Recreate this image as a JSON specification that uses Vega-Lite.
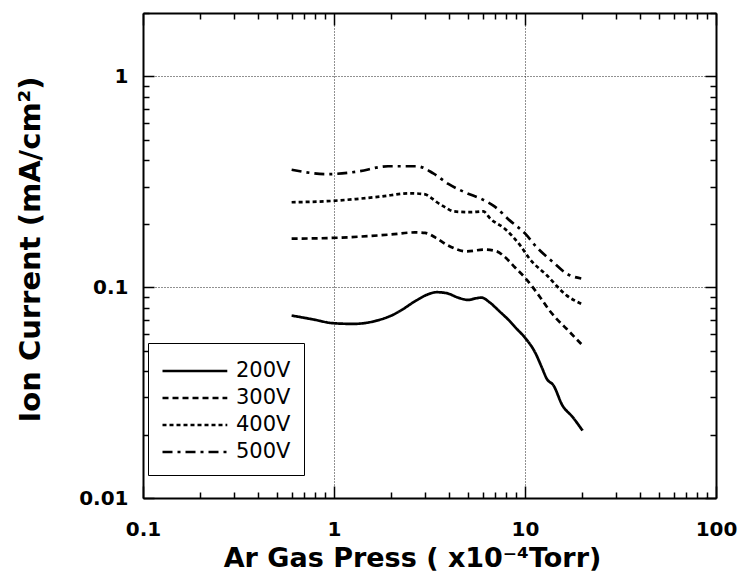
{
  "$schema": "https://vega.github.io/schema/vega-lite/v6.json",
  "width": 573,
  "height": 485,
  "autosize": {"type": "none"},
  "padding": {"left": 143, "top": 13, "right": 28, "bottom": 87},
  "background": "white",
  "config": {
    "view": {"stroke": null},
    "font": "DejaVu Sans",
    "axis": {
      "domainColor": "black",
      "domainWidth": 2,
      "ticks": true,
      "tickColor": "black",
      "tickWidth": 1.5,
      "labelFont": "DejaVu Sans",
      "labelFontWeight": "bold",
      "labelFontSize": 20,
      "labelColor": "black",
      "titleFont": "DejaVu Sans",
      "titleFontWeight": "bold",
      "titleFontSize": 27,
      "titleColor": "black",
      "gridColor": "#222",
      "gridDash": [1, 2],
      "gridWidth": 1
    }
  },
  "data": {
    "values": [
      {"press": 0.60, "current": 0.0734, "voltage": "200V"},
      {"press": 0.78, "current": 0.0703, "voltage": "200V"},
      {"press": 0.99, "current": 0.0675, "voltage": "200V"},
      {"press": 1.26, "current": 0.0670, "voltage": "200V"},
      {"press": 1.67, "current": 0.0694, "voltage": "200V"},
      {"press": 2.05, "current": 0.0742, "voltage": "200V"},
      {"press": 2.21, "current": 0.0770, "voltage": "200V"},
      {"press": 2.70, "current": 0.0866, "voltage": "200V"},
      {"press": 3.10, "current": 0.0925, "voltage": "200V"},
      {"press": 3.45, "current": 0.0947, "voltage": "200V"},
      {"press": 3.89, "current": 0.0937, "voltage": "200V"},
      {"press": 4.50, "current": 0.0890, "voltage": "200V"},
      {"press": 5.04, "current": 0.0870, "voltage": "200V"},
      {"press": 5.50, "current": 0.0885, "voltage": "200V"},
      {"press": 5.93, "current": 0.0893, "voltage": "200V"},
      {"press": 6.50, "current": 0.0850, "voltage": "200V"},
      {"press": 7.40, "current": 0.0764, "voltage": "200V"},
      {"press": 8.20, "current": 0.0700, "voltage": "200V"},
      {"press": 9.05, "current": 0.0635, "voltage": "200V"},
      {"press": 10.0, "current": 0.0576, "voltage": "200V"},
      {"press": 11.3, "current": 0.0490, "voltage": "200V"},
      {"press": 12.2, "current": 0.0420, "voltage": "200V"},
      {"press": 13.0, "current": 0.0368, "voltage": "200V"},
      {"press": 14.1, "current": 0.0342, "voltage": "200V"},
      {"press": 15.7, "current": 0.0275, "voltage": "200V"},
      {"press": 17.7, "current": 0.0243, "voltage": "200V"},
      {"press": 20.0, "current": 0.0209, "voltage": "200V"},

      {"press": 0.60, "current": 0.170, "voltage": "300V"},
      {"press": 0.92, "current": 0.171, "voltage": "300V"},
      {"press": 1.54, "current": 0.175, "voltage": "300V"},
      {"press": 2.00, "current": 0.178, "voltage": "300V"},
      {"press": 2.65, "current": 0.182, "voltage": "300V"},
      {"press": 3.00, "current": 0.181, "voltage": "300V"},
      {"press": 3.40, "current": 0.172, "voltage": "300V"},
      {"press": 3.90, "current": 0.159, "voltage": "300V"},
      {"press": 4.95, "current": 0.148, "voltage": "300V"},
      {"press": 6.17, "current": 0.151, "voltage": "300V"},
      {"press": 7.12, "current": 0.148, "voltage": "300V"},
      {"press": 7.85, "current": 0.139, "voltage": "300V"},
      {"press": 8.87, "current": 0.124, "voltage": "300V"},
      {"press": 10.0, "current": 0.111, "voltage": "300V"},
      {"press": 12.0, "current": 0.0897, "voltage": "300V"},
      {"press": 13.3, "current": 0.0785, "voltage": "300V"},
      {"press": 14.5, "current": 0.0715, "voltage": "300V"},
      {"press": 16.5, "current": 0.0635, "voltage": "300V"},
      {"press": 20.0, "current": 0.0530, "voltage": "300V"},

      {"press": 0.60, "current": 0.253, "voltage": "400V"},
      {"press": 0.92, "current": 0.256, "voltage": "400V"},
      {"press": 1.30, "current": 0.262, "voltage": "400V"},
      {"press": 1.74, "current": 0.269, "voltage": "400V"},
      {"press": 2.50, "current": 0.279, "voltage": "400V"},
      {"press": 3.00, "current": 0.276, "voltage": "400V"},
      {"press": 3.20, "current": 0.267, "voltage": "400V"},
      {"press": 3.46, "current": 0.253, "voltage": "400V"},
      {"press": 3.81, "current": 0.240, "voltage": "400V"},
      {"press": 4.22, "current": 0.229, "voltage": "400V"},
      {"press": 5.15, "current": 0.227, "voltage": "400V"},
      {"press": 6.05, "current": 0.229, "voltage": "400V"},
      {"press": 6.60, "current": 0.211, "voltage": "400V"},
      {"press": 7.86, "current": 0.189, "voltage": "400V"},
      {"press": 9.48, "current": 0.157, "voltage": "400V"},
      {"press": 10.6, "current": 0.136, "voltage": "400V"},
      {"press": 13.0, "current": 0.114, "voltage": "400V"},
      {"press": 16.5, "current": 0.0915, "voltage": "400V"},
      {"press": 19.7, "current": 0.0834, "voltage": "400V"},

      {"press": 0.60, "current": 0.361, "voltage": "500V"},
      {"press": 0.92, "current": 0.344, "voltage": "500V"},
      {"press": 1.31, "current": 0.353, "voltage": "500V"},
      {"press": 1.92, "current": 0.375, "voltage": "500V"},
      {"press": 2.71, "current": 0.375, "voltage": "500V"},
      {"press": 3.31, "current": 0.347, "voltage": "500V"},
      {"press": 3.97, "current": 0.309, "voltage": "500V"},
      {"press": 4.85, "current": 0.282, "voltage": "500V"},
      {"press": 5.93, "current": 0.262, "voltage": "500V"},
      {"press": 6.95, "current": 0.241, "voltage": "500V"},
      {"press": 8.34, "current": 0.207, "voltage": "500V"},
      {"press": 10.0, "current": 0.180, "voltage": "500V"},
      {"press": 11.5, "current": 0.155, "voltage": "500V"},
      {"press": 14.1, "current": 0.131, "voltage": "500V"},
      {"press": 16.5, "current": 0.116, "voltage": "500V"},
      {"press": 19.7, "current": 0.110, "voltage": "500V"}
    ]
  },
  "layer": [
    {
      "mark": {"type": "line", "color": "black", "strokeWidth": 2.7, "interpolate": "monotone"},
      "encoding": {
        "x": {
          "field": "press",
          "type": "quantitative",
          "scale": {"type": "log", "domain": [0.1, 100], "nice": false},
          "axis": {
            "orient": "bottom",
            "title": "Ar  Gas Press ( x10⁻⁴Torr)",
            "titleX": 269,
            "titlePadding": 0,
            "values": [0.1, 0.2, 0.3, 0.4, 0.5, 0.6, 0.7, 0.8, 0.9, 1, 2, 3, 4, 5, 6, 7, 8, 9, 10, 20, 30, 40, 50, 60, 70, 80, 90, 100],
            "labelExpr": "abs(log(datum.value)/LN10 - round(log(datum.value)/LN10)) < 0.001 ? format(datum.value, '~g') : ''",
            "labelPadding": 33,
            "labelFlush": false,
            "labelOverlap": false,
            "tickSize": {"condition": {"test": "abs(log(datum.value)/LN10 - round(log(datum.value)/LN10)) < 0.001", "value": -12}, "value": -6},
            "grid": true,
            "gridOpacity": {"condition": {"test": "abs(log(datum.value)/LN10 - round(log(datum.value)/LN10)) < 0.001", "value": 1}, "value": 0}
          }
        },
        "y": {
          "field": "current",
          "type": "quantitative",
          "scale": {"type": "log", "domain": [0.01, 2], "nice": false},
          "axis": {
            "orient": "left",
            "title": "Ion Current (mA/cm²)",
            "titleFontSize": 29,
            "titlePadding": 33,
            "titleY": 236,
            "values": [0.01, 0.02, 0.03, 0.04, 0.05, 0.06, 0.07, 0.08, 0.09, 0.1, 0.2, 0.3, 0.4, 0.5, 0.6, 0.7, 0.8, 0.9, 1, 2],
            "labelExpr": "abs(log(datum.value)/LN10 - round(log(datum.value)/LN10)) < 0.001 ? format(datum.value, '~g') : ''",
            "labelPadding": 26,
            "labelFlush": false,
            "labelOverlap": false,
            "tickSize": {"condition": {"test": "abs(log(datum.value)/LN10 - round(log(datum.value)/LN10)) < 0.001", "value": -11}, "value": -6},
            "grid": true,
            "gridOpacity": {"condition": {"test": "abs(log(datum.value)/LN10 - round(log(datum.value)/LN10)) < 0.001", "value": 1}, "value": 0}
          }
        },
        "strokeDash": {
          "field": "voltage",
          "type": "nominal",
          "scale": {
            "domain": ["200V", "300V", "400V", "500V"],
            "range": [[1, 0], [6, 4], [4, 3], [10, 5, 3, 5]]
          },
          "legend": {
            "title": null,
            "orient": "none",
            "legendX": 5,
            "legendY": 330,
            "direction": "vertical",
            "fillColor": "white",
            "strokeColor": "black",
            "padding": 13,
            "rowPadding": 2,
            "symbolType": "M-1,0H3.8",
            "symbolSize": 729,
            "symbolStrokeWidth": 2.4,
            "symbolStrokeColor": "black",
            "labelFont": "DejaVu Sans",
            "labelFontSize": 21,
            "labelColor": "black",
            "labelOffset": 45
          }
        }
      }
    },
    {
      "mark": {"type": "line", "opacity": 0},
      "encoding": {
        "x": {
          "field": "press",
          "type": "quantitative",
          "scale": {"type": "log", "domain": [0.1, 100], "nice": false},
          "axis": {
            "orient": "top",
            "title": null,
            "labels": false,
            "grid": false,
            "values": [0.1, 0.2, 0.3, 0.4, 0.5, 0.6, 0.7, 0.8, 0.9, 1, 2, 3, 4, 5, 6, 7, 8, 9, 10, 20, 30, 40, 50, 60, 70, 80, 90, 100],
            "tickSize": {"condition": {"test": "abs(log(datum.value)/LN10 - round(log(datum.value)/LN10)) < 0.001", "value": -12}, "value": -6}
          }
        },
        "y": {
          "field": "current",
          "type": "quantitative",
          "scale": {"type": "log", "domain": [0.01, 2], "nice": false},
          "axis": {
            "orient": "right",
            "title": null,
            "labels": false,
            "grid": false,
            "values": [0.01, 0.02, 0.03, 0.04, 0.05, 0.06, 0.07, 0.08, 0.09, 0.1, 0.2, 0.3, 0.4, 0.5, 0.6, 0.7, 0.8, 0.9, 1, 2],
            "tickSize": {"condition": {"test": "abs(log(datum.value)/LN10 - round(log(datum.value)/LN10)) < 0.001", "value": -11}, "value": -6}
          }
        },
        "detail": {"field": "voltage", "type": "nominal"}
      }
    }
  ],
  "resolve": {"axis": {"x": "independent", "y": "independent"}}
}
